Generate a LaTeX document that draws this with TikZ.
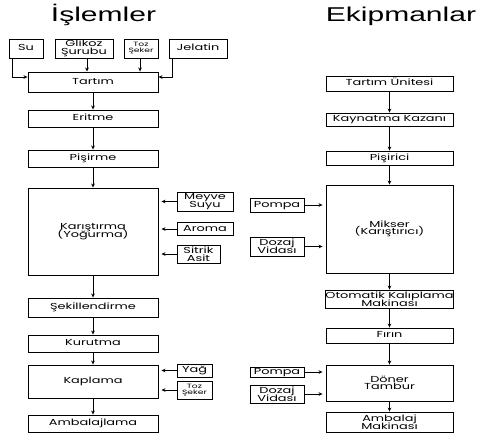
\documentclass[tikz,border=0pt]{standalone}
\usepackage{fontspec}
\setmainfont[FakeStretch=1.48]{Poppins}
\newfontfamily\titlefont[FakeStretch=1.5]{Liberation Sans}
\usetikzlibrary{arrows.meta}
% keep the baselines of two-line labels evenly spaced
\newcommand\tightlines{\lineskiplimit=-20pt\relax}

\begin{document}
\begin{tikzpicture}[x=1pt,y=-1pt,
  box/.style 2 args={draw, line width=0.9pt, inner sep=0pt, minimum width=#1, minimum height=#2,
    align=center, font=\fontsize{8.7}{7.6}\selectfont\tightlines},
  one/.style={text height=6.3pt, text depth=1.5pt},
  tiny/.style={font=\fontsize{6.2}{6.2}\selectfont\tightlines},
  arr/.style={line width=0.9pt, -{Stealth[length=4pt,width=3.6pt]}},
  ttl/.style={font=\titlefont\fontsize{20}{20}\selectfont, anchor=base}]
\useasboundingbox (0,0) rectangle (479,437);

% column headings
\node[ttl] (t1) at (103.5,21) {İşlemler};
\node[ttl] (t2) at (401,21) {Ekipmanlar};

% --- process steps ---
\node[box={34pt}{19pt},one] (su) at (26,48.5) {Su};
\node[box={58pt}{19pt}] (glikoz) at (84,48.5) {Glikoz\\Şurubu};
\node[box={34pt}{19pt},tiny] (toz) at (141,48.5) {Toz\\Şeker};
\node[box={58pt}{19pt},one] (jelatin) at (198,48.5) {Jelatin};

\node[box={130pt}{20pt},one] (tartim) at (93,82) {Tartım};
\node[box={130pt}{17pt},one] (eritme) at (93,118.5) {Eritme};
\node[box={130pt}{17pt},one] (pisirme) at (93,158.5) {Pişirme};
\node[box={130pt}{87pt}] (karis) at (93,231.5) {Karıştırma\\(Yoğurma)};
\node[box={130pt}{19pt},one] (sekil) at (93,307.5) {Şekillendirme};
\node[box={130pt}{17pt},one] (kurutma) at (93,343.5) {Kurutma};
\node[box={130pt}{33pt},one] (kaplama) at (93,381.5) {Kaplama};
\node[box={130pt}{17pt},one] (ambalaj) at (93,423.5) {Ambalajlama};

\node[box={56pt}{19pt}] (meyve) at (205,201.5) {Meyve\\Suyu};
\node[box={56pt}{13pt},one] (aroma) at (205,229) {Aroma};
\node[box={43pt}{18pt}] (sitrik) at (198.5,254) {Sitrik\\Asit};
\node[box={35pt}{13pt},one] (yag) at (194.5,370.5) {Yağ};
\node[box={35pt}{18pt},tiny] (toz2) at (194.5,390) {Toz\\Şeker};

\draw[arr] ([xshift=4pt]su.south west) |- ([yshift=5pt]tartim.west);
\draw[arr] ([xshift=3pt]glikoz.south) -- ([xshift=3pt]glikoz.south |- tartim.north);
\draw[arr] ([xshift=-1pt]toz.south) -- ([xshift=-1pt]toz.south |- tartim.north);
\draw[arr] ([xshift=4pt]jelatin.south west) |- ([yshift=5pt]tartim.east);

\draw[arr] (tartim) -- (eritme);
\draw[arr] (eritme) -- (pisirme);
\draw[arr] (pisirme) -- (karis);
\draw[arr] (karis) -- (sekil);
\draw[arr] (sekil) -- (kurutma);
\draw[arr] (kurutma) -- (kaplama);
\draw[arr] (kaplama) -- (ambalaj);

\draw[arr] (meyve.west) -- ([xshift=3pt]karis.east |- meyve.west);
\draw[arr] (aroma.west) -- ([xshift=3pt]karis.east |- aroma.west);
\draw[arr] (sitrik.west) -- ([xshift=3pt]karis.east |- sitrik.west);
\draw[arr] (yag.west) -- ([xshift=3pt]kaplama.east |- yag.west);
\draw[arr] (toz2.west) -- ([xshift=3pt]kaplama.east |- toz2.west);

% --- equipment ---
\node[box={127pt}{15pt},one] (tu) at (389.5,83.5) {Tartım Ünitesi};
\node[box={127pt}{13pt},one] (kazan) at (389.5,119.5) {Kaynatma Kazanı};
\node[box={127pt}{14pt},one] (pisirici) at (389.5,158) {Pişirici};
\node[box={127pt}{88pt}] (mikser) at (389.5,229) {Mikser\\(Karıştırıcı)};
\node[box={127pt}{18pt}] (kalip) at (389.5,299) {Otomatik Kalıplama\\Makinası};
\node[box={127pt}{15pt},one] (firin) at (389.5,335.5) {Fırın};
\node[box={127pt}{36pt}] (doner) at (389.5,383) {Döner\\Tambur};
\node[box={127pt}{20pt}] (amak) at (389.5,422) {Ambalaj\\Makinası};

\node[box={54pt}{14pt},one] (pompa1) at (277,205) {Pompa};
\node[box={54pt}{19pt}] (dozaj1) at (277,246.5) {Dozaj\\Vidası};
\node[box={54pt}{10pt},one] (pompa2) at (277,372) {Pompa};
\node[box={54pt}{18pt}] (dozaj2) at (277,394) {Dozaj\\Vidası};

\draw[arr] (tu) -- (kazan);
\draw[arr] (kazan) -- (pisirici);
\draw[arr] (pisirici) -- (mikser);
\draw[arr] (mikser) -- (kalip);
\draw[arr] (kalip) -- (firin);
\draw[arr] (firin) -- (doner);
\draw[arr] (doner) -- (amak);

\draw[arr] (pompa1.east) -- ([xshift=-3pt]mikser.west |- pompa1.east);
\draw[arr] (dozaj1.east) -- ([xshift=-3pt]mikser.west |- dozaj1.east);
\draw[arr] (pompa2.east) -- ([xshift=-3pt]doner.west |- pompa2.east);
\draw[arr] (dozaj2.east) -- ([xshift=-3pt]doner.west |- dozaj2.east);
\end{tikzpicture}
\end{document}
